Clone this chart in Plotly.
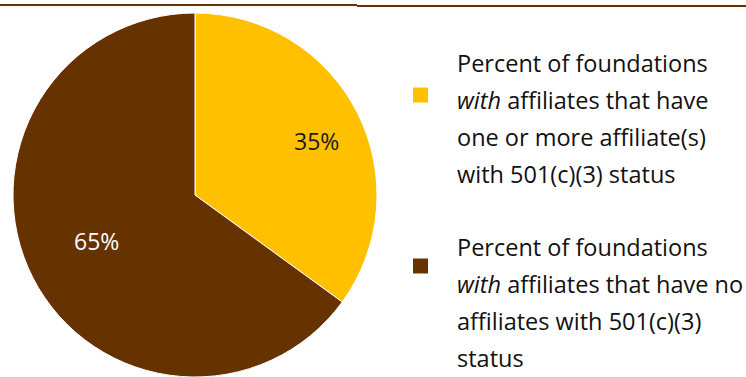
import plotly.graph_objects as go

labels = ["With 501(c)(3) affiliate(s)", "No 501(c)(3) affiliates"]
values = [35, 65]
colors = ["#FFC000", "#663300"]
text_colors = ["#1A1A1A", "#FFFFFF"]
legend_lines = [
    ["Percent of foundations", "<i>with</i> affiliates that have", "one or more affiliate(s)", "with 501(c)(3) status"],
    ["Percent of foundations", "<i>with</i> affiliates that have no", "affiliates with 501(c)(3)", "status"],
]

W, H = 746, 377
fig = go.Figure()
fig.add_trace(go.Pie(
    labels=labels, values=values, sort=False, direction="clockwise", rotation=0,
    marker=dict(colors=colors, line=dict(color="#FFFFFF", width=1)),
    textinfo="none",
    domain=dict(x=[13 / W, 377 / W], y=[0, 1 - 13 / H]),
    showlegend=False, hoverinfo="label+percent",
))

shapes = [
    dict(type="line", xref="paper", yref="paper", x0=0, x1=357 / W, y0=1 - 5 / H, y1=1 - 5 / H,
         line=dict(color="#663300", width=2)),
    dict(type="line", xref="paper", yref="paper", x0=357 / W, x1=1, y0=1 - 6 / H, y1=1 - 6 / H,
         line=dict(color="#663300", width=2)),
]
annotations = []
# percentage labels (positions chosen to match the reference's "best fit" placement)
pct_pos = [(316, 141), (96, 241)]
for i, v in enumerate(values):
    annotations.append(dict(text=f"{v}%", xref="paper", yref="paper",
                            x=pct_pos[i][0] / W, y=1 - pct_pos[i][1] / H,
                            xanchor="center", yanchor="middle", showarrow=False,
                            font=dict(family="Open Sans", size=23, color=text_colors[i])))
sq_y = [95, 266]
first_line_y = [63, 247]
for i in range(2):
    shapes.append(dict(type="rect", xref="paper", yref="paper",
                       x0=413 / W, x1=428 / W, y0=1 - (sq_y[i] - 7.5) / H, y1=1 - (sq_y[i] + 7.5) / H,
                       fillcolor=colors[i], line=dict(width=0)))
    for j, t in enumerate(legend_lines[i]):
        annotations.append(dict(text=t, xref="paper", yref="paper", x=455 / W, y=1 - (first_line_y[i] + 37 * j) / H,
                                xanchor="left", yanchor="middle", showarrow=False,
                                font=dict(family="Open Sans", size=23.5, color="#111111")))

fig.update_layout(width=W, height=H, margin=dict(l=0, r=0, t=0, b=0),
                  paper_bgcolor="white", plot_bgcolor="white",
                  shapes=shapes, annotations=annotations)
fig.write_html("out.html", config={"displayModeBar": False},
               post_script="document.body.style.margin='0';document.body.style.overflow='hidden';")
